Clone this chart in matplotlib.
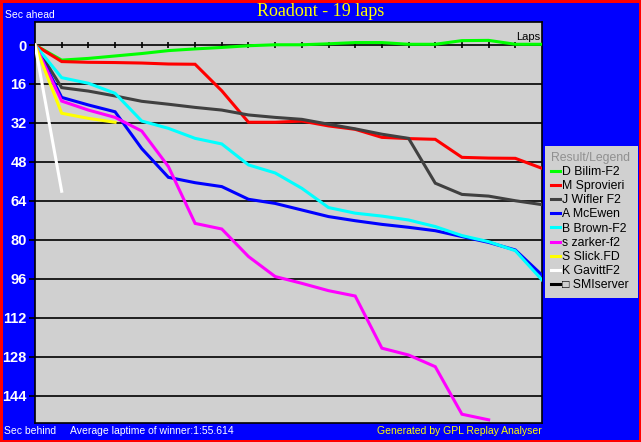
import numpy as np
import matplotlib.pyplot as plt
from matplotlib.lines import Line2D
from matplotlib.patches import Rectangle

# ── data (seconds behind leader per lap) ─────────────────────────────────────
laps = list(range(20))
bilim = [0, 6.2, 5.5, 4.5, 3.5, 2.3, 1.6, 1.0, 0.3, -0.1, -0.1, -0.5, -1.0,
         -1.0, -0.3, -0.3, -1.8, -1.9, -0.3, -0.3]
sprovieri = [0, 6.8, 7.1, 7.2, 7.4, 7.8, 7.9, 18.8, 31.7, 31.7, 31.2, 33.2,
             34.6, 37.9, 38.4, 38.7, 46.1, 46.4, 46.5, 50.6]
wifler = [0, 17.5, 18.9, 20.9, 23.1, 24.3, 25.6, 26.7, 28.7, 29.7, 30.5, 32.5,
          34.4, 36.6, 38.3, 56.7, 61.3, 62.0, 63.9, 65.5]
mcewen = [0, 21.5, 24.6, 27.4, 42.5, 54.3, 56.5, 58.1, 63.3, 65.0, 67.7, 70.4,
          72.1, 73.6, 74.8, 76.2, 78.6, 81.0, 84.1, 94.4]
brown = [0, 13.4, 15.7, 19.8, 31.2, 34.2, 38.3, 40.6, 49.2, 52.5, 58.8, 66.7,
         69.0, 70.2, 71.8, 74.5, 78.2, 80.7, 84.4, 96.4]
zarker = [0, 23.0, 26.7, 29.7, 35.3, 49.9, 73.2, 75.5, 86.8, 95.0, 97.8, 100.8,
          103.0, 124.4, 127.2, 132.0, 151.5, 153.8]
slick = [0, 28.0, 30.1, 31.7]
gavitt = [0, 60.0]

drivers = ["D Bilim-F2", "M Sprovieri", "J Wifler F2", "A McEwen", "B Brown-F2",
           "s zarker-f2", "S Slick.FD", "K GavittF2"]
series = [bilim, sprovieri, wifler, mcewen, brown, zarker, slick, gavitt]
colors = ["#00ff00", "#ff0000", "#404040", "#0000ff", "#00ffff", "#ff00ff",
          "#ffff00", "#ffffff"]
server = "\u25a1 SMIserver"
yticks = [0, 16, 32, 48, 64, 80, 96, 112, 128, 144]
title = "Roadont - 19 laps"
avg_lap = "Average laptime of winner:1:55.614"

W, H = 641, 442


def fx(px):
    return px / W


def fy(py):
    return 1 - py / H


fig = plt.figure(figsize=(W / 100, H / 100), dpi=100)
fig.patch.set_facecolor("#0000ff")
# red frame round the whole picture
fig.add_artist(Rectangle((0, 0), 1, 1, transform=fig.transFigure,
                         facecolor="none", edgecolor="#ff0000", lw=3.6,
                         zorder=10, clip_on=False))

ax = fig.add_axes([fx(35), fy(423), fx(542 - 35), (423 - 22) / H])
ax.set_facecolor("#d0d0d0")
for s in ax.spines.values():
    s.set_color("black")
    s.set_linewidth(1.2)

ax.set_xlim(0, 19)
ax.set_ylim(155.1, -9.44)
ax.set_xticks([])
ax.set_yticks(yticks)
ax.set_yticklabels([str(v) for v in yticks], color="white", fontweight="bold",
                   fontsize=10.5, family="Liberation Sans")
ax.tick_params(axis="y", length=4, width=1.2, color="black", pad=2)
for v in yticks[1:]:
    ax.axhline(v, color="black", lw=1.2, zorder=1)

# zero line with lap ticks
ax.axhline(0, color="black", lw=1.2, zorder=1)
ax.vlines(laps[1:-1], -1.2, 1.2, color="black", lw=1.2, zorder=1)
ax.text(18.95, -1.4, "Laps", ha="right", va="bottom", fontsize=8,
        family="Liberation Sans", color="black")

handles = []
for name, vals, c in zip(drivers, series, colors):
    ln, = ax.plot(laps[:len(vals)], vals, color=c, lw=2.2, label=name,
                  zorder=3, solid_joinstyle="miter")
    handles.append(ln)
handles.append(Line2D([], [], color="black", lw=2.2, label=server))

leg = fig.legend(handles=handles, loc="upper left",
                 bbox_to_anchor=(fx(545), fy(150), fx(93), 0.01), mode="expand",
                 title="Result/Legend", title_fontsize=8.8,
                 handlelength=0.75, handletextpad=0.15, labelspacing=0.18,
                 borderpad=0.5, borderaxespad=0, fancybox=False,
                 facecolor="#d0d0d0", edgecolor="none", framealpha=1,
                 prop={"family": "Liberation Sans", "size": 8.8})
leg.get_title().set_color("#909090")
leg.get_title().set_family("Liberation Sans")
leg._legend_box.align = "left"

fig.text(0.5, fy(12), title, ha="center", va="center", color="#ffff00",
         fontsize=13, family="Liberation Serif")
fig.text(fx(5), fy(15), "Sec ahead", ha="left", va="center", color="white",
         fontsize=7.5, family="Liberation Sans")
fig.text(fx(4), fy(431), "Sec behind", ha="left", va="center", color="white",
         fontsize=7.5, family="Liberation Sans")
fig.text(fx(70), fy(431), avg_lap, ha="left", va="center", color="white",
         fontsize=7.5, family="Liberation Sans")
fig.text(fx(542), fy(431), "Generated by GPL Replay Analyser", ha="right",
         va="center", color="#ffff00", fontsize=7.5, family="Liberation Sans")

fig.savefig("out.png", dpi=100, facecolor=fig.get_facecolor())
